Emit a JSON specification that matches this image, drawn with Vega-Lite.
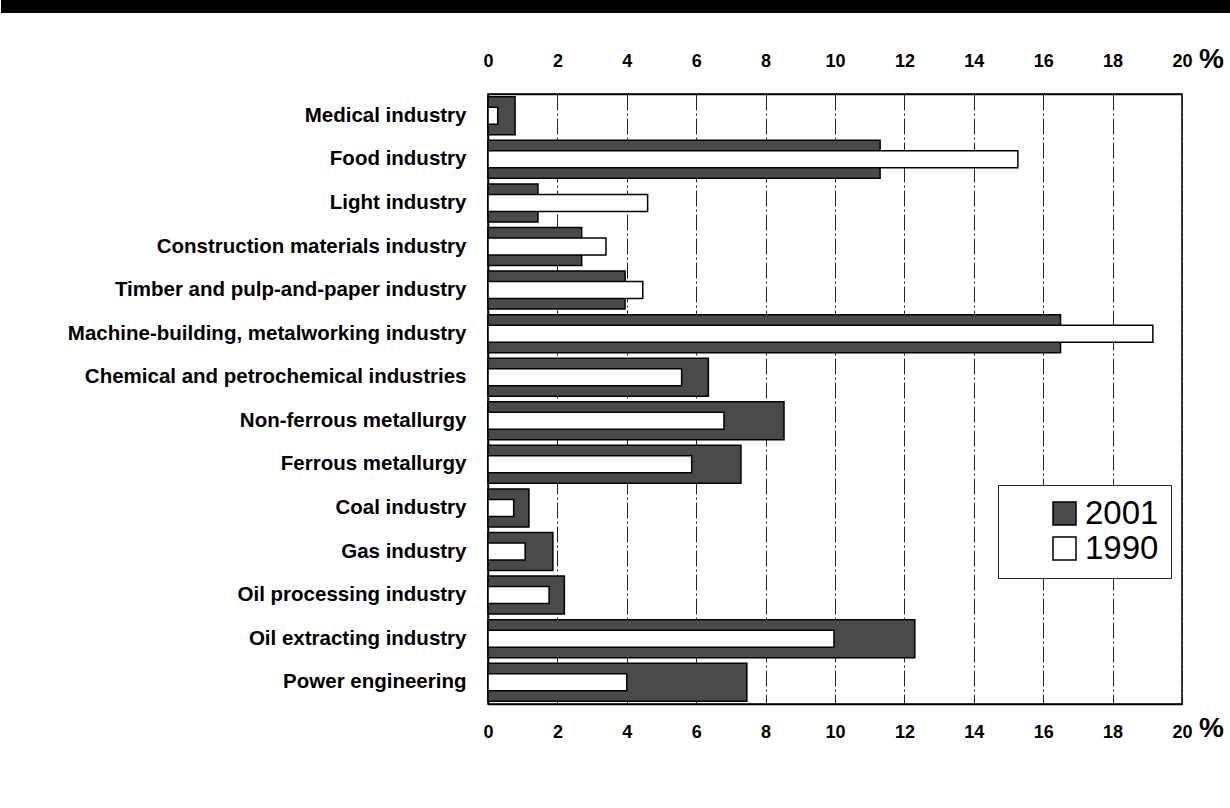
{
  "$schema": "https://vega.github.io/schema/vega-lite/v6.json",
  "padding": 0,
  "background": "white",
  "spacing": 0,
  "config": {"font": "Liberation Sans"},
  "vconcat": [
    {
      "width": 743,
      "height": 13,
      "view": {"stroke": null},
      "data": {"values": [{"a": 0, "b": 1}]},
      "mark": {"type": "rect", "color": "black", "clip": false},
      "encoding": {
        "x": {"field": "a", "type": "quantitative", "scale": {"domain": [0, 1], "range": [-487, 743], "nice": false, "zero": false}, "axis": null},
        "x2": {"field": "b"}
      }
    },
    {
      "width": 694,
      "height": 610,
      "view": {"stroke": "black", "strokeWidth": 1.5},
      "data": {
        "values": [
          {"industry": "Medical industry", "year": "2001", "value": 0.78},
          {"industry": "Medical industry", "year": "1990", "value": 0.28},
          {"industry": "Food industry", "year": "2001", "value": 11.3},
          {"industry": "Food industry", "year": "1990", "value": 15.27},
          {"industry": "Light industry", "year": "2001", "value": 1.44},
          {"industry": "Light industry", "year": "1990", "value": 4.6},
          {"industry": "Construction materials industry", "year": "2001", "value": 2.7},
          {"industry": "Construction materials industry", "year": "1990", "value": 3.4},
          {"industry": "Timber and pulp-and-paper industry", "year": "2001", "value": 3.95},
          {"industry": "Timber and pulp-and-paper industry", "year": "1990", "value": 4.46},
          {"industry": "Machine-building, metalworking industry", "year": "2001", "value": 16.5},
          {"industry": "Machine-building, metalworking industry", "year": "1990", "value": 19.16},
          {"industry": "Chemical and petrochemical industries", "year": "2001", "value": 6.35},
          {"industry": "Chemical and petrochemical industries", "year": "1990", "value": 5.58},
          {"industry": "Non-ferrous metallurgy", "year": "2001", "value": 8.53},
          {"industry": "Non-ferrous metallurgy", "year": "1990", "value": 6.8},
          {"industry": "Ferrous metallurgy", "year": "2001", "value": 7.29},
          {"industry": "Ferrous metallurgy", "year": "1990", "value": 5.87},
          {"industry": "Coal industry", "year": "2001", "value": 1.18},
          {"industry": "Coal industry", "year": "1990", "value": 0.74},
          {"industry": "Gas industry", "year": "2001", "value": 1.87},
          {"industry": "Gas industry", "year": "1990", "value": 1.07},
          {"industry": "Oil processing industry", "year": "2001", "value": 2.2},
          {"industry": "Oil processing industry", "year": "1990", "value": 1.76},
          {"industry": "Oil extracting industry", "year": "2001", "value": 12.3},
          {"industry": "Oil extracting industry", "year": "1990", "value": 9.97},
          {"industry": "Power engineering", "year": "2001", "value": 7.46},
          {"industry": "Power engineering", "year": "1990", "value": 4.0}
        ]
      },
      "encoding": {
        "y": {
          "field": "industry",
          "type": "nominal",
          "sort": ["Medical industry", "Food industry", "Light industry", "Construction materials industry", "Timber and pulp-and-paper industry", "Machine-building, metalworking industry", "Chemical and petrochemical industries", "Non-ferrous metallurgy", "Ferrous metallurgy", "Coal industry", "Gas industry", "Oil processing industry", "Oil extracting industry", "Power engineering"],
          "scale": {"paddingInner": 0, "paddingOuter": 0},
          "axis": {
            "title": ".",
            "titleX": -487,
            "titleY": -80,
            "titleAngle": 0,
            "titleAlign": "left",
            "titleBaseline": "top",
            "titleOpacity": 0,
            "titleFontSize": 10,
            "labelFont": "Liberation Sans",
            "labelFontWeight": "bold",
            "labelFontSize": 20.5,
            "labelColor": "black",
            "labelPadding": 22,
            "labelLimit": 600,
            "ticks": false,
            "grid": false,
            "domain": true,
            "domainColor": "black",
            "domainWidth": 1.5
          }
        }
      },
      "layer": [
        {
          "transform": [{"filter": "datum.year === '2001'"}],
          "mark": {"type": "bar", "size": 38, "stroke": "black", "strokeWidth": 1.5, "opacity": 1},
          "encoding": {
            "x": {
              "field": "value",
              "type": "quantitative",
              "scale": {"domain": [0, 20], "nice": false},
              "axis": {
                "orient": "top",
                "values": [0, 2, 4, 6, 8, 10, 12, 14, 16, 18, 20],
                "grid": true,
                "gridColor": "#222222",
                "gridDash": [16, 3, 2, 3],
                "gridWidth": 1,
                "ticks": false,
                "domain": true,
                "domainColor": "black",
                "domainWidth": 1.5,
                "labelFont": "Liberation Sans",
                "labelFontWeight": "bold",
                "labelFontSize": 18,
                "labelColor": "black",
                "labelPadding": 24,
                "labelFlush": false,
                "title": "%",
                "titleFont": "Liberation Sans",
                "titleFontSize": 28,
                "titleFontWeight": "bold",
                "titleColor": "black",
                "titleAngle": 0,
                "titleX": 723,
                "titleY": -35,
                "titleAlign": "center",
                "titleBaseline": "middle"
              }
            },
            "color": {
              "field": "year",
              "type": "nominal",
              "scale": {"domain": ["2001", "1990"], "range": ["#4a4a4a", "#ffffff"]},
              "legend": {
                "orient": "none",
                "legendX": 510,
                "legendY": 485,
                "title": null,
                "fillColor": "white",
                "strokeColor": "#222222",
                "padding": 12,
                "symbolType": "square",
                "symbolSize": 529,
                "symbolStrokeColor": "black",
                "symbolStrokeWidth": 1.5,
                "symbolOffset": 38,
                "labelFont": "Liberation Sans",
                "labelFontSize": 33,
                "labelColor": "black",
                "labelOffset": 4,
                "rowPadding": 1
              }
            }
          }
        },
        {
          "transform": [{"filter": "datum.year === '1990'"}],
          "mark": {"type": "bar", "size": 17, "stroke": "black", "strokeWidth": 1.5, "opacity": 1},
          "encoding": {
            "x": {
              "field": "value",
              "type": "quantitative",
              "scale": {"domain": [0, 20], "nice": false},
              "axis": {
                "orient": "bottom",
                "values": [0, 2, 4, 6, 8, 10, 12, 14, 16, 18, 20],
                "grid": false,
                "ticks": false,
                "domain": true,
                "domainColor": "black",
                "domainWidth": 1.5,
                "labelFont": "Liberation Sans",
                "labelFontWeight": "bold",
                "labelFontSize": 18,
                "labelColor": "black",
                "labelPadding": 19,
                "labelFlush": false,
                "title": "%",
                "titleFont": "Liberation Sans",
                "titleFontSize": 28,
                "titleFontWeight": "bold",
                "titleColor": "black",
                "titleAngle": 0,
                "titleX": 723,
                "titleY": 24,
                "titleAlign": "center",
                "titleBaseline": "middle"
              }
            },
            "color": {"field": "year", "type": "nominal"}
          }
        }
      ],
      "resolve": {"axis": {"x": "independent"}}
    }
  ]
}
